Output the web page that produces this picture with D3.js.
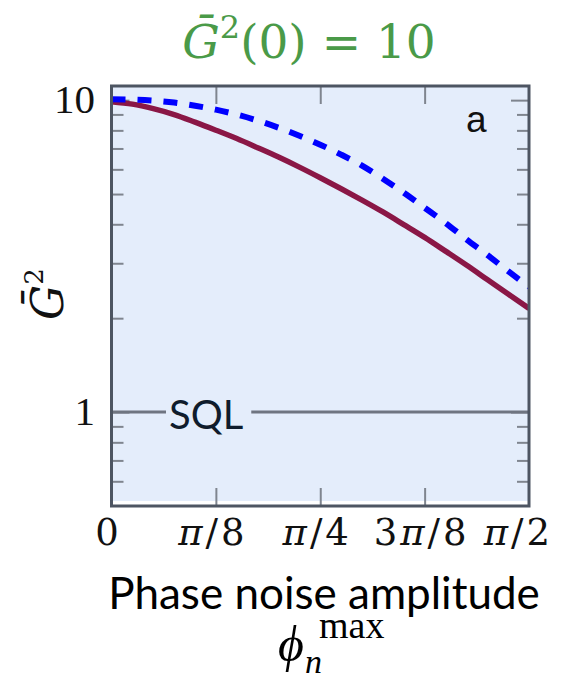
<!DOCTYPE html>
<html>
<head>
<meta charset="utf-8">
<script src="https://cdn.jsdelivr.net/npm/d3@7"></script>
<style>
  body { margin: 0; background: #fff; }
  svg { display: block; }
</style>
</head>
<body>
<svg id="chart" width="562" height="679"></svg>
<script>
// phase noise amplitude phi_n^max, in units of pi
const phiOverPi = [0, 0.025, 0.05, 0.075, 0.1, 0.125, 0.15, 0.175, 0.2, 0.225,
  0.25, 0.275, 0.3, 0.325, 0.35, 0.375, 0.4, 0.425, 0.45, 0.475, 0.5];
// solid maroon curve
const g2Solid = [9.89, 9.71, 9.39, 8.99, 8.50, 8.01, 7.53, 7.04, 6.57, 6.10,
  5.64, 5.20, 4.78, 4.38, 3.99, 3.63, 3.28, 2.96, 2.66, 2.39, 2.15];
// dashed blue curve
const g2Dashed = [10.07, 10.04, 9.96, 9.82, 9.60, 9.32, 8.99, 8.60, 8.16, 7.69,
  7.20, 6.69, 6.17, 5.60, 5.05, 4.52, 4.04, 3.58, 3.19, 2.83, 2.52];
const sqlLevel = 1;

const xTickValues = [0, 1 / 8, 1 / 4, 3 / 8, 1 / 2];   // units of pi
const xTickLabels = ['0', 'π/8', 'π/4', '3π/8', 'π/2'];
const yMajorTicks = [1, 10];
const yMinorTicks = [0.6, 0.7, 0.8, 0.9, 2, 3, 4, 5, 6, 7, 8, 9];
const yDomain = [0.5, 11.1];

const svg = d3.select('#chart');
const plot = { left: 111.5, right: 529, top: 86, bottom: 506 };

const x = d3.scaleLinear()
  .domain([0, Math.PI / 2])
  .range([plot.left, plot.right]);

const y = d3.scaleLog()
  .domain(yDomain)
  .range([plot.bottom, plot.top]);

const frameColor = '#4d5562';
const tickColor = '#7f858f';
const serif = '"DejaVu Serif", "Liberation Serif", serif';
const sans = 'Lato, "Open Sans", sans-serif';

// Title
const title = svg.append('text')
  .attr('x', 309)
  .attr('y', 58)
  .attr('text-anchor', 'middle')
  .attr('font-family', serif)
  .attr('font-size', 47)
  .attr('fill', '#4a9a48');
title.append('tspan').attr('font-style', 'italic').text('Ḡ');
title.append('tspan').attr('font-size', 32).attr('dy', -20).text('2');
title.append('tspan').attr('dy', 20).text('(0) = 10');

// Plot background (stops a little above the bottom frame, as in the original)
svg.append('rect')
  .attr('x', plot.left)
  .attr('y', plot.top)
  .attr('width', plot.right - plot.left)
  .attr('height', plot.bottom - plot.top - 5)
  .attr('fill', '#e4edfb');

svg.append('clipPath')
  .attr('id', 'clip')
  .append('rect')
  .attr('x', plot.left)
  .attr('y', plot.top)
  .attr('width', plot.right - plot.left)
  .attr('height', plot.bottom - plot.top);

// Ticks, drawn inward on all four sides
function styleTicks(g) {
  g.select('.domain').remove();
  g.selectAll('text').remove();
  g.selectAll('line').attr('stroke', tickColor).attr('stroke-width', 2);
}

svg.append('g')
  .attr('transform', `translate(${plot.left},0)`)
  .call(d3.axisLeft(y).tickValues(yMinorTicks).tickSize(-12))
  .call(styleTicks);
svg.append('g')
  .attr('transform', `translate(${plot.left},0)`)
  .call(d3.axisLeft(y).tickValues(yMajorTicks).tickSize(-18))
  .call(styleTicks);
svg.append('g')
  .attr('transform', `translate(${plot.right},0)`)
  .call(d3.axisRight(y).tickValues(yMinorTicks).tickSize(-12))
  .call(styleTicks);
svg.append('g')
  .attr('transform', `translate(${plot.right},0)`)
  .call(d3.axisRight(y).tickValues(yMajorTicks).tickSize(-18))
  .call(styleTicks);

const innerX = xTickValues.slice(1, -1).map(d => d * Math.PI);
svg.append('g')
  .attr('transform', `translate(0,${plot.bottom})`)
  .call(d3.axisBottom(x).tickValues(innerX).tickSize(-18))
  .call(styleTicks);
svg.append('g')
  .attr('transform', `translate(0,${plot.top})`)
  .call(d3.axisTop(x).tickValues(innerX).tickSize(-18))
  .call(styleTicks);

// SQL reference line with its label
const ySql = y(sqlLevel);
const sqlText = svg.append('text')
  .attr('x', 169)
  .attr('y', ySql + 7)
  .attr('font-family', sans)
  .attr('font-size', 40)
  .attr('fill', '#0f1c2c')
  .attr('dominant-baseline', 'middle')
  .text('SQL');
const sb = sqlText.node().getBBox();
svg.append('line')
  .attr('x1', plot.left).attr('x2', sb.x - 3)
  .attr('y1', ySql).attr('y2', ySql)
  .attr('stroke', '#6f7581').attr('stroke-width', 3);
svg.append('line')
  .attr('x1', sb.x + sb.width + 8).attr('x2', plot.right)
  .attr('y1', ySql).attr('y2', ySql)
  .attr('stroke', '#6f7581').attr('stroke-width', 3);

// Curves
const line = d3.line()
  .x(d => x(d[0] * Math.PI))
  .y(d => y(d[1]))
  .curve(d3.curveMonotoneX);

const curves = svg.append('g').attr('clip-path', 'url(#clip)');
curves.append('path')
  .datum(d3.zip(phiOverPi, g2Solid))
  .attr('d', line)
  .attr('fill', 'none')
  .attr('stroke', '#8a1746')
  .attr('stroke-width', 5.5);
curves.append('path')
  .datum(d3.zip(phiOverPi, g2Dashed))
  .attr('d', line)
  .attr('fill', 'none')
  .attr('stroke', '#0000ff')
  .attr('stroke-width', 6)
  .attr('stroke-dasharray', '14,12');

// Frame
svg.append('rect')
  .attr('x', plot.left)
  .attr('y', plot.top)
  .attr('width', plot.right - plot.left)
  .attr('height', plot.bottom - plot.top)
  .attr('fill', 'none')
  .attr('stroke', frameColor)
  .attr('stroke-width', 3);

// Panel letter
svg.append('text')
  .attr('x', 466)
  .attr('y', 132)
  .attr('font-family', '"Liberation Sans", Arial, sans-serif')
  .attr('font-size', 37)
  .attr('fill', '#111')
  .text('a');

// Y tick labels
svg.selectAll('.ylab')
  .data(yMajorTicks)
  .join('text')
  .attr('class', 'ylab')
  .attr('x', 95)
  .attr('y', d => y(d) + 13)
  .attr('text-anchor', 'end')
  .attr('font-family', '"Liberation Serif", serif')
  .attr('font-size', 41)
  .attr('fill', '#111')
  .text(d => d);

// X tick labels (pi in italic)
const xl = svg.selectAll('.xlab')
  .data(d3.zip(xTickValues, xTickLabels))
  .join('text')
  .attr('class', 'xlab')
  .attr('x', (d, i) => i === xTickValues.length - 1 ? 553 : x(d[0] * Math.PI) - 3)
  .attr('y', 545)
  .attr('text-anchor', (d, i) => i === xTickValues.length - 1 ? 'end' : 'middle')
  .attr('font-family', serif)
  .attr('font-size', 37)
  .attr('letter-spacing', 3)
  .attr('fill', '#111');
xl.each(function (d) {
  const t = d3.select(this);
  d[1].split(/(π)/).filter(s => s).forEach(s => {
    t.append('tspan').attr('font-style', s === 'π' ? 'italic' : null).text(s);
  });
});

// Y axis label
const yl = svg.append('text')
  .attr('transform', 'translate(63,320) rotate(-90)')
  .attr('font-family', serif)
  .attr('font-size', 44)
  .attr('fill', '#111');
yl.append('tspan').attr('font-style', 'italic').text('Ḡ');
yl.append('tspan').attr('font-size', 26).attr('dy', -20).text('2');

// X axis label
svg.append('text')
  .attr('x', 324)
  .attr('y', 609)
  .attr('text-anchor', 'middle')
  .attr('font-family', sans)
  .attr('font-size', 44)
  .attr('fill', '#000')
  .text('Phase noise amplitude');

const mathSerif = '"Liberation Serif", "DejaVu Serif", serif';
const phi = svg.append('text')
  .attr('font-family', mathSerif)
  .attr('fill', '#000');
phi.append('tspan')
  .attr('x', 278).attr('y', 661)
  .attr('font-size', 50).attr('font-style', 'italic').text('ϕ');
phi.append('tspan')
  .attr('x', 305).attr('y', 673)
  .attr('font-size', 34).attr('font-style', 'italic').text('n');
phi.append('tspan')
  .attr('x', 319).attr('y', 638)
  .attr('font-size', 38).text('max');
</script>
</body>
</html>
